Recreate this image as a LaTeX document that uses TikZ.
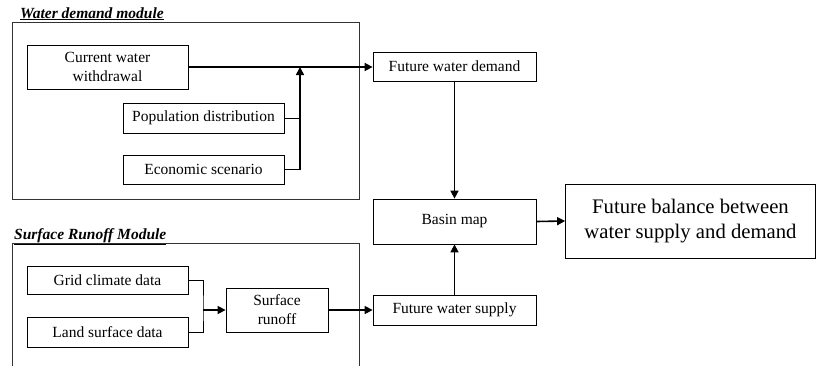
\documentclass[tikz,border=0pt]{standalone}
\usepackage{fontspec}
\setmainfont{Liberation Serif}
\usetikzlibrary{arrows.meta}
\begin{document}
\begin{tikzpicture}[
    x=1pt, y=-1pt,
    blk/.style={draw, line width=0.8pt, inner sep=0pt, align=center, font=\fontsize{15.5}{19}\selectfont},
    thin/.style={line width=0.8pt},
    flow/.style={line width=1.6pt, -{Triangle[length=8pt,width=8pt]}},
    title/.style={anchor=base west, inner sep=0pt, font=\fontsize{15.5}{19}\selectfont\bfseries\itshape}
]
    \clip (0, 0) rectangle (816, 365);

    % Modules
    \draw[thin, black!80] (12, 22) rectangle (359, 199);
    \draw[thin, black!80] (12, 243) rectangle (359, 380);
    \node[title] (tdemand) at (20, 18) {\underline{Water demand module}};
    \node[title] (trunoff) at (14, 239) {\underline{Surface Runoff Module}};

    % Water demand boxes
    \node[blk, minimum width=161, minimum height=44] (cww) at (107.5, 67) {Current water\\withdrawal};
    \node[blk, minimum width=161, minimum height=30] (pop) at (203.5, 118) {Population distribution};
    \node[blk, minimum width=161, minimum height=29] (eco) at (203.5, 169.5) {Economic scenario};

    % Surface runoff boxes
    \node[blk, minimum width=161, minimum height=28] (grid) at (107.5, 280) {Grid climate data};
    \node[blk, minimum width=161, minimum height=30] (land) at (107.5, 332) {Land surface data};
    \node[blk, minimum width=102, minimum height=44] (sro) at (277, 310) {Surface\\runoff};

    % Right column
    \node[blk, minimum width=163, minimum height=29] (fwd) at (454.5, 66.5) {Future water demand};
    \node[blk, minimum width=163, minimum height=45] (basin) at (454.5, 221.5) {Basin map};
    \node[blk, minimum width=163, minimum height=30] (fws) at (454.5, 310) {Future water supply};
    \node[blk, minimum width=250, minimum height=74, font=\fontsize{20.7}{25}\selectfont] (bal) at (690.5, 221) {Future balance between\\water supply and demand};

    % Junctions
    \coordinate (j1) at (300, 67);
    \coordinate (j2) at (203, 310);

    % Arrows
    \draw[flow] (cww.east) -- (cww.east -| fwd.west);
    \draw[thin] (pop.east) -- (pop.east -| j1);
    \draw[thin] (eco.east) -- (eco.east -| j1);
    \draw[flow] (eco.east -| j1) -- (j1);
    \draw[thin] (grid.east) -| (j2) |- (land.east);
    \draw[flow] (j2) -- (sro.west);
    \draw[flow] (sro.east) -- (fws.west);
    \draw[flow] (fwd.south) -- (basin.north);
    \draw[flow] (fws.north) -- (basin.south);
    \draw[flow] (basin.east) -- (bal.west);
\end{tikzpicture}
\end{document}
